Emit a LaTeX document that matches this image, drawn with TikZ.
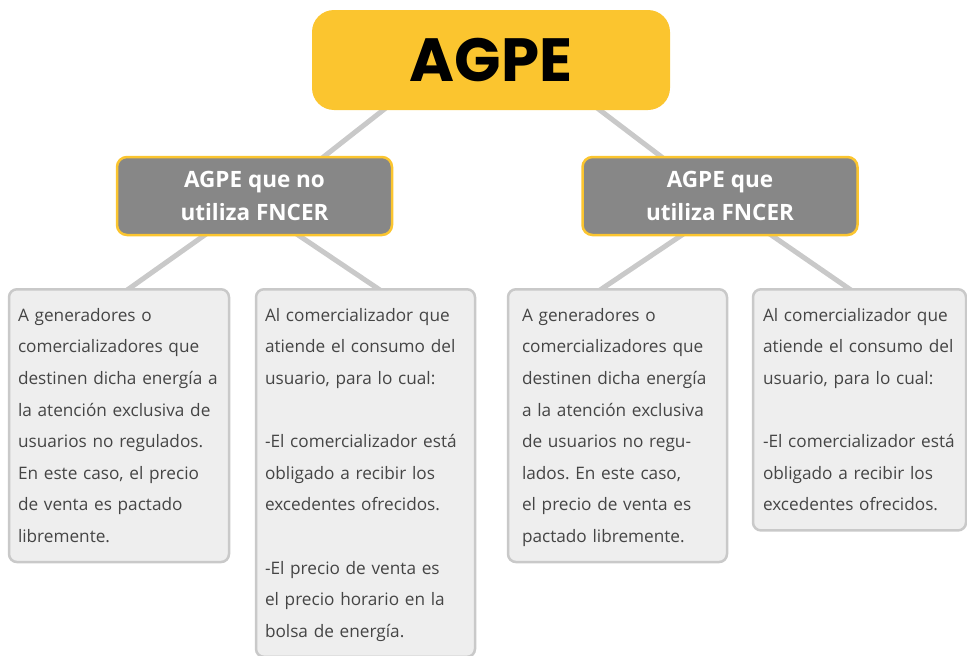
\documentclass[tikz,border=0pt]{standalone}
\usepackage{fontspec}
\setmainfont{Open Sans}
\newfontfamily\titlefont{Poppins}
\usetikzlibrary{backgrounds}
\definecolor{agpeyellow}{HTML}{FBC52F}
\definecolor{midgray}{HTML}{878787}
\definecolor{leaffill}{HTML}{EEEEEE}
\definecolor{leafline}{HTML}{C9C9C9}
\definecolor{leaftext}{HTML}{454545}
\frenchspacing

\begin{document}
\begin{tikzpicture}[x=1pt,y=-1pt,
    rootbox/.style={fill=agpeyellow, rounded corners=22pt, minimum width=358pt,
        minimum height=100pt, inner sep=0pt, font=\titlefont\bfseries\fontsize{61}{62}\selectfont},
    branchbox/.style={fill=midgray, draw=agpeyellow, line width=2.5pt, rounded corners=10pt,
        minimum width=275pt, minimum height=78pt, text=white, align=center,
        font=\bfseries\fontsize{22.5}{33}\selectfont},
    leafbox/.style={fill=leaffill, draw=leafline, line width=2.5pt, rounded corners=8pt,
        anchor=north, align=left, text=leaftext, inner xsep=9pt, inner ysep=10pt,
        font=\fontsize{17.2}{31.6}\selectfont,
        execute at begin node=\strut, execute at end node=\strut},
    link/.style={draw=leafline, line width=5pt, shorten <=-15pt, shorten >=-15pt}]
\useasboundingbox (0,0) rectangle (967,656);
% cajas
\node[rootbox] (agpe) at (491,60) {AGPE};
\node[branchbox] (nofncer) at (254.5,196) {AGPE que no\\utiliza FNCER};
\node[branchbox] (fncer) at (720,196) {AGPE que\\utiliza FNCER};

\node[leafbox, text width=202pt] (gen1) at (119,288) {A generadores o\\
    comercializadores que\\ destinen dicha energía a\\ la atención exclusiva de\\
    usuarios no regulados.\\ En este caso, el precio\\ de venta es pactado\\ libremente.};
\node[leafbox, text width=201pt] (com1) at (365.5,288) {Al comercializador que\\
    atiende el consumo del\\ usuario, para lo cual:\\[\baselineskip]
    -El comercializador está\\ obligado a recibir los\\ excedentes ofrecidos.\\[\baselineskip]
    -El precio de venta es\\ el precio horario en la\\ bolsa de energía.};
\node[leafbox, text width=191pt, inner xsep=14pt] (gen2) at (617.5,288) {A generadores o\\
    comercializadores que\\ destinen dicha energía\\ a la atención exclusiva\\
    de usuarios no regu-\\ lados. En este caso,\\ el precio de venta es\\ pactado libremente.};
\node[leafbox, text width=193pt, inner xsep=10pt] (com2) at (859.5,288) {Al comercializador que\\
    atiende el consumo del\\ usuario, para lo cual:\\[\baselineskip]
    -El comercializador está\\ obligado a recibir los\\ excedentes ofrecidos.};

% conectores
\begin{scope}[on background layer]
    \draw[link] ([xshift=-108pt]agpe.south) -- ([xshift=70.5pt]nofncer.north);
    \draw[link] ([xshift=109pt]agpe.south) -- ([xshift=-60pt]fncer.north);
    \draw[link] ([xshift=-51.5pt]nofncer.south) -- ([xshift=11pt]gen1.north);
    \draw[link] ([xshift=45.5pt]nofncer.south) -- ([xshift=11.5pt]com1.north);
    \draw[link] ([xshift=-40pt]fncer.south) -- ([xshift=-14.5pt]gen2.north);
    \draw[link] ([xshift=53pt]fncer.south) -- ([xshift=-11.5pt]com2.north);
\end{scope}
\end{tikzpicture}
\end{document}
